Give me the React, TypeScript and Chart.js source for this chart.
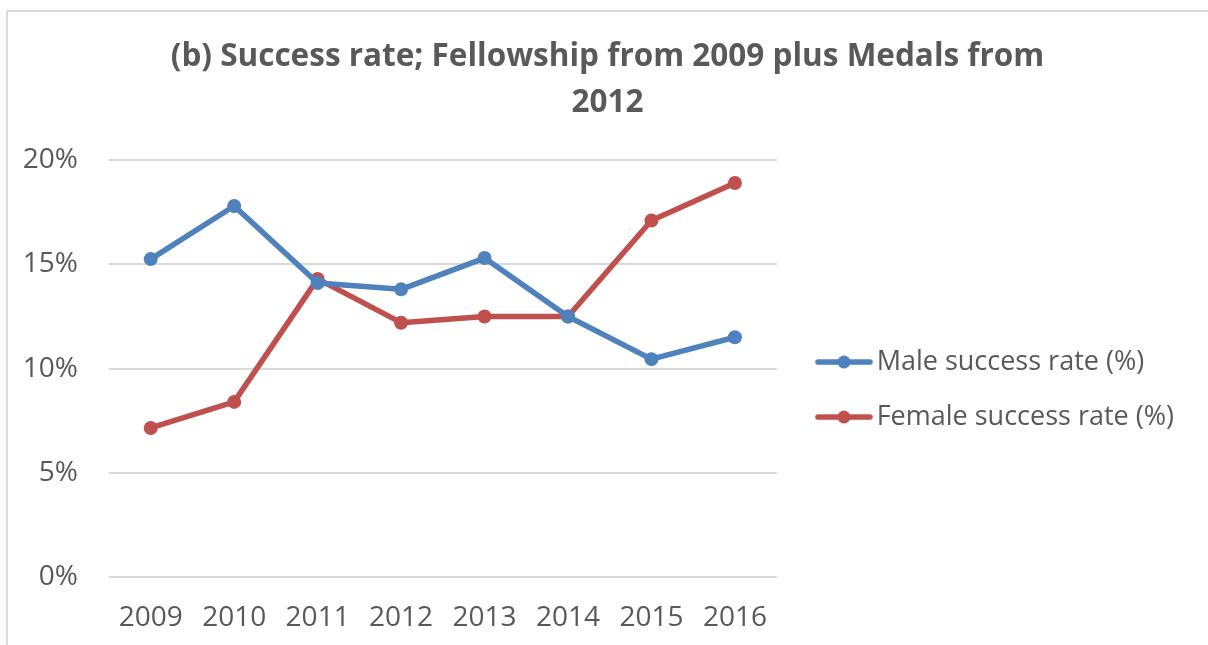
import React, { useEffect, useRef } from "react";
import { Chart, registerables } from "chart.js";

Chart.register(...registerables);

const years = ["2009", "2010", "2011", "2012", "2013", "2014", "2015", "2016"];
const maleRate = [15.25, 17.8, 14.1, 13.8, 15.3, 12.5, 10.45, 11.5];
const femaleRate = [7.15, 8.4, 14.3, 12.2, 12.5, 12.5, 17.1, 18.9];
const seriesNames = ["Male success rate (%)", "Female success rate (%)"];
const titleLines = ["(b) Success rate; Fellowship from 2009 plus Medals from", "2012"];

const BLUE = "#4F81BD";
const RED = "#C0504D";
const TEXT = "#595959";
const FONT = "'Open Sans', sans-serif";

function makeLegendImage(color: string): HTMLCanvasElement {
  const c = document.createElement("canvas");
  c.width = 78;
  c.height = 16;
  const g = c.getContext("2d")!;
  g.strokeStyle = color;
  g.lineWidth = 5.5;
  g.lineCap = "round";
  g.beginPath();
  g.moveTo(23, 8);
  g.lineTo(75, 8);
  g.stroke();
  g.fillStyle = color;
  g.beginPath();
  g.arc(49, 8, 6.5, 0, Math.PI * 2);
  g.fill();
  return c;
}

const framePlugin = {
  id: "frame",
  afterLayout(chart: any) {
    // centre the title over the whole framed picture, as in the original
    if (chart.titleBlock) chart.titleBlock.left = 31;
  },
  beforeDraw(chart: any) {
    const ctx = chart.ctx;
    ctx.save();
    ctx.fillStyle = "#ffffff";
    ctx.fillRect(0, 0, chart.width, chart.height);
    ctx.strokeStyle = "#d9d9d9";
    ctx.lineWidth = 2;
    ctx.beginPath();
    ctx.moveTo(7, chart.height);
    ctx.lineTo(7, 11);
    ctx.lineTo(chart.width, 11);
    ctx.stroke();
    ctx.restore();
  },
};

export default function App() {
  const ref = useRef<HTMLCanvasElement>(null);
  useEffect(() => {
    if (!ref.current) return;
    const imgs = [makeLegendImage(BLUE), makeLegendImage(RED)];
    const chart = new Chart(ref.current, {
      type: "line",
      data: {
        labels: years,
        datasets: [
          {
            label: seriesNames[0],
            data: maleRate,
            borderColor: BLUE,
            backgroundColor: BLUE,
            borderWidth: 5.5,
            pointRadius: 7,
            pointBorderWidth: 0,
            pointBackgroundColor: BLUE,
            borderJoinStyle: "round",
            borderCapStyle: "round",
            tension: 0,
          },
          {
            label: seriesNames[1],
            data: femaleRate,
            borderColor: RED,
            backgroundColor: RED,
            borderWidth: 5.5,
            pointRadius: 7,
            pointBorderWidth: 0,
            pointBackgroundColor: RED,
            borderJoinStyle: "round",
            borderCapStyle: "round",
            tension: 0,
          },
        ],
      },
      options: {
        responsive: false,
        animation: false,
        layout: { padding: { left: 0, right: 24, top: 0, bottom: 0 } },
        plugins: {
          tooltip: { enabled: false },
          title: {
            display: true,
            text: titleLines,
            color: TEXT,
            font: { family: FONT, size: 31.5, weight: "bold", lineHeight: 1.43 },
            padding: { top: 35, bottom: 35 },
          },
          legend: {
            display: true,
            position: "right",
            align: "center",
            fullSize: false,
            maxWidth: 600,
            title: { display: true, text: "", font: { size: 10, lineHeight: 1.2 }, padding: { top: 30, bottom: 0 } },
            labels: {
              usePointStyle: true,
              pointStyleWidth: 58.5,
              padding: 28,
              color: TEXT,
              font: { family: FONT, size: 27 },
              generateLabels: (c: any) =>
                c.data.datasets.map((ds: any, i: number) => ({
                  text: ds.label,
                  fillStyle: ds.borderColor,
                  strokeStyle: ds.borderColor,
                  lineWidth: 0,
                  pointStyle: imgs[i],
                  hidden: false,
                  datasetIndex: i,
                  fontColor: TEXT,
                })),
            },
          },
        },
        scales: {
          x: {
            offset: true,
            grid: { display: false, drawTicks: false },
            border: { display: false },
            afterFit: (s: any) => {
              s.height = 68;
            },
            ticks: { color: TEXT, font: { family: FONT, size: 28 }, padding: 24, maxRotation: 0, autoSkip: false },
          },
          y: {
            min: 0,
            max: 20,
            grid: { color: "#d9d9d9", lineWidth: 2, drawTicks: false },
            border: { display: false },
            afterFit: (s: any) => {
              s.width = 109;
            },
            ticks: {
              stepSize: 5,
              color: TEXT,
              font: { family: FONT, size: 28 },
              padding: 31,
              callback: (v: any) => v + "%",
            },
          },
        },
      },
      plugins: [framePlugin],
    } as any);
    return () => chart.destroy();
  }, []);
  return (
    <canvas
      ref={ref}
      width={1208}
      height={645}
      style={{ position: "absolute", left: 0, top: 0, display: "block" }}
    />
  );
}
